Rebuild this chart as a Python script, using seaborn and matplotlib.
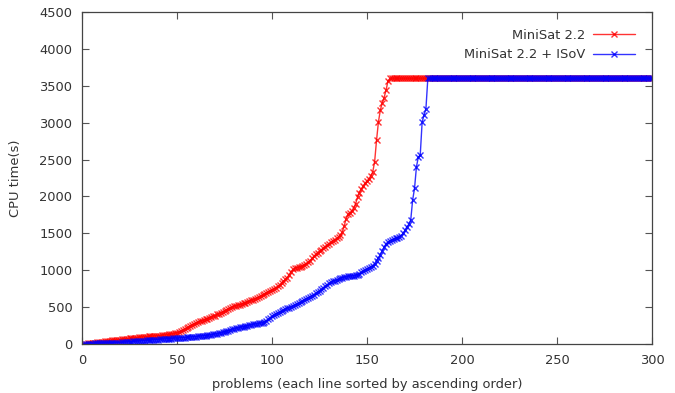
import pandas as pd
import numpy as np
import matplotlib
matplotlib.use("Agg")
import matplotlib.pyplot as plt
import seaborn as sns

TIMEOUT = 3600

# CPU time of each solved problem, sorted ascending
minisat_solved = [
    3, 5, 7, 9, 12, 15, 18, 22, 26, 30,
    33, 36, 39, 42, 45, 48, 51, 54, 57, 60,
    63, 66, 69, 72, 75, 78, 81, 84, 87, 90,
    92, 95, 97, 100, 102, 104, 106, 108, 110, 112,
    114, 116, 119, 122, 126, 130, 135, 140, 146, 152,
    160, 170, 185, 200, 215, 230, 245, 258, 270, 282,
    295, 305, 315, 325, 335, 345, 355, 365, 375, 385,
    400, 412, 425, 438, 450, 462, 475, 488, 500, 510,
    518, 526, 534, 542, 550, 560, 570, 580, 590, 600,
    612, 625, 638, 650, 662, 675, 690, 705, 720, 735,
    750, 765, 780, 800, 825, 850, 875, 900, 940, 980,
    1010, 1025, 1035, 1040, 1045, 1055, 1070, 1090, 1110, 1130,
    1160, 1190, 1215, 1240, 1260, 1280, 1300, 1320, 1340, 1360,
    1380, 1400, 1415, 1430, 1450, 1480, 1520, 1600, 1700, 1760,
    1780, 1800, 1850, 1900, 1990, 2050, 2100, 2140, 2180, 2210,
    2240, 2280, 2330, 2470, 2760, 3010, 3170, 3265, 3340, 3440, 3560,
]
isov_solved = [
    1, 2, 3, 4, 5, 6, 7, 8, 9, 10,
    11, 12, 13, 14, 15, 16, 17, 18, 19, 20,
    22, 24, 26, 28, 30, 32, 34, 36, 38, 40,
    42, 44, 46, 48, 50, 52, 54, 56, 58, 60,
    62, 64, 66, 68, 70, 72, 74, 76, 78, 80,
    82, 84, 86, 88, 90, 92, 94, 96, 98, 100,
    103, 106, 109, 112, 115, 118, 121, 125, 130, 135,
    140, 145, 150, 158, 166, 174, 182, 190, 198, 206,
    212, 218, 224, 230, 236, 242, 248, 254, 260, 266,
    270, 274, 278, 282, 290, 300, 315, 335, 355, 375,
    392, 408, 420, 432, 445, 458, 470, 482, 494, 505,
    516, 528, 540, 552, 565, 580, 595, 610, 625, 640,
    655, 670, 688, 705, 722, 740, 760, 780, 800, 820,
    835, 850, 860, 870, 880, 890, 900, 905, 910, 915,
    918, 922, 926, 930, 940, 955, 970, 985, 1000, 1015,
    1030, 1045, 1060, 1090, 1130, 1170, 1210, 1260, 1310, 1360,
    1380, 1400, 1410, 1420, 1430, 1440, 1450, 1470, 1500, 1540,
    1590, 1620, 1680, 1950, 2110, 2400, 2535, 2560, 3010, 3100, 3190,
]
n_problems = 300
minisat_times = minisat_solved + [TIMEOUT] * (n_problems - len(minisat_solved))
isov_times = isov_solved + [TIMEOUT] * (n_problems - len(isov_solved))

labels = ["MiniSat 2.2", "MiniSat 2.2 + ISoV"]
colors = ["#ff0000", "#0000ff"]

df = pd.DataFrame({
    "problem": list(range(1, n_problems + 1)) * 2,
    "time": minisat_times + isov_times,
    "solver": [labels[0]] * n_problems + [labels[1]] * n_problems,
})

sns.set_style("ticks")
plt.rcParams["font.family"] = ["DejaVu Sans"]
text_color = "#333333"

fig = plt.figure(figsize=(6.75, 3.93), dpi=100)
ax = fig.add_axes([0.1215, 0.1247, 0.8445, 0.8448])

for lab, col in zip(labels, colors):
    sns.lineplot(data=df[df["solver"] == lab], x="problem", y="time", ax=ax,
                 color=col, marker="x", markersize=5, markeredgewidth=1,
                 markeredgecolor=col, linewidth=1, label=lab, alpha=0.8)

ax.set_xlim(0, 300)
ax.set_ylim(0, 4500)
ax.set_xticks(np.arange(0, 301, 50))
ax.set_yticks(np.arange(0, 4501, 500))
ax.tick_params(direction="in", top=True, right=True, length=5, width=0.8,
               labelsize=9.4, colors="#555555", labelcolor=text_color, pad=7)
for s in ax.spines.values():
    s.set_color("#444444")
    s.set_linewidth(0.9)

ax.set_xlabel("problems (each line sorted by ascending order)", fontsize=9.4,
              color=text_color, va="top")
ax.xaxis.set_label_coords(0.5, -0.103)
ax.set_ylabel("CPU time(s)", fontsize=9.4, color=text_color, va="center")
ax.yaxis.set_label_coords(-0.116, 0.5)

leg = ax.legend(loc="upper right", frameon=False, markerfirst=False,
                fontsize=9.4, handlelength=3.2, borderaxespad=0.9,
                labelspacing=0.5, handletextpad=0.6)
for t in leg.get_texts():
    t.set_color(text_color)

fig.savefig("out.png", dpi=100)
